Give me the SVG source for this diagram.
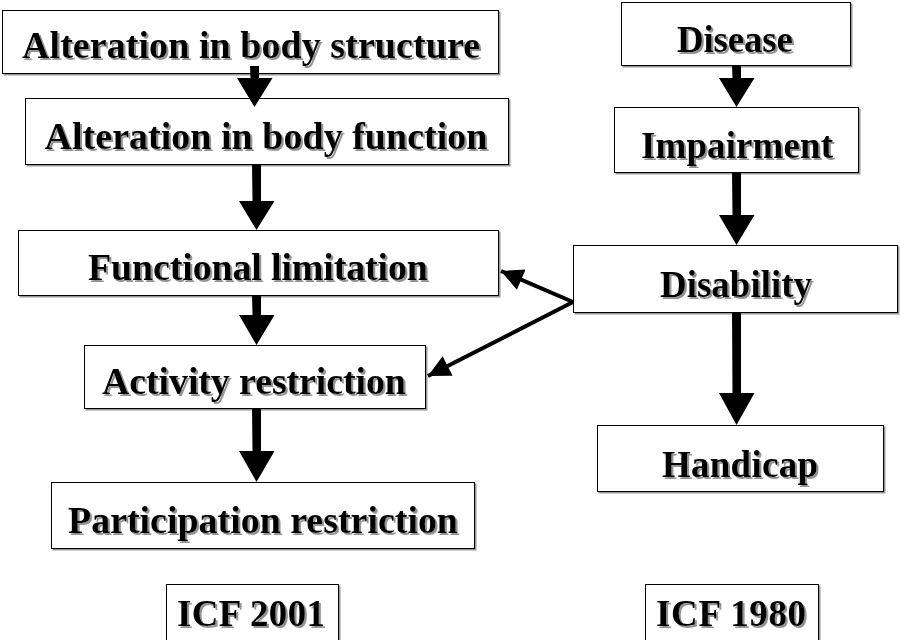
<svg xmlns="http://www.w3.org/2000/svg" width="900" height="640" viewBox="0 0 900 640">
  <defs>
    <filter id="tshadow" x="-5%" y="-20%" width="115%" height="150%">
      <feDropShadow dx="2" dy="2" stdDeviation="0.5" flood-color="#888" flood-opacity="0.9"/>
    </filter>
    <filter id="bshadow" x="-2%" y="-5%" width="105%" height="115%">
      <feDropShadow dx="1.5" dy="1.5" stdDeviation="0" flood-color="#999"/>
    </filter>
    <marker id="head" viewBox="0 0 10 10" refX="10" refY="5" markerWidth="6" markerHeight="5.5" orient="auto" markerUnits="strokeWidth">
      <path d="M0,0 L10,5 L0,10 Z" fill="#000"/>
    </marker>
  </defs>
  <style>
    .box { fill: #fff; stroke: #000; stroke-width: 1; filter: url(#bshadow); }
    .lbl { font-family: "Liberation Serif", "Times New Roman", serif; font-weight: bold; font-size: 38px; fill: #000; text-anchor: middle; filter: url(#tshadow); }
    .r { font-size: 37px; }
    .big { fill: #000; }
    .thin { stroke: #000; stroke-width: 4; fill: none; marker-end: url(#head); }
  </style>
  <rect width="900" height="640" fill="#fff"/>

  <g id="n-structure"><rect class="box" x="2.5" y="10.5" width="496" height="63"/><text class="lbl" x="251" y="58" textLength="458" lengthAdjust="spacing">Alteration in body structure</text></g>
  <g id="n-function"><rect class="box" x="25.5" y="98.5" width="483" height="66"/><text class="lbl" x="266" y="149" textLength="443" lengthAdjust="spacing">Alteration in body function</text></g>
  <g id="n-functional"><rect class="box" x="18.5" y="230.5" width="480" height="65"/><text class="lbl" x="258" y="280" textLength="340" lengthAdjust="spacing">Functional limitation</text></g>
  <g id="n-activity"><rect class="box" x="84.5" y="345.5" width="341" height="63"/><text class="lbl" x="254" y="394" textLength="304" lengthAdjust="spacing">Activity restriction</text></g>
  <g id="n-participation"><rect class="box" x="51.5" y="482.5" width="423" height="66"/><text class="lbl" x="263" y="533" textLength="390" lengthAdjust="spacing">Participation restriction</text></g>
  <g id="n-icf2001"><rect class="box" x="166.5" y="584.5" width="172" height="60"/><text class="lbl r" x="251" y="626" textLength="148" lengthAdjust="spacing">ICF 2001</text></g>

  <g id="n-disease"><rect class="box" x="621.5" y="2.5" width="229" height="63"/><text class="lbl r" x="735" y="52" textLength="116" lengthAdjust="spacing">Disease</text></g>
  <g id="n-impairment"><rect class="box" x="614.5" y="107.5" width="244" height="65"/><text class="lbl r" x="737" y="158" textLength="192" lengthAdjust="spacing">Impairment</text></g>
  <g id="n-disability"><rect class="box" x="573.5" y="245.5" width="324" height="67"/><text class="lbl r" x="736" y="297" textLength="152" lengthAdjust="spacing">Disability</text></g>
  <g id="n-handicap"><rect class="box" x="597.5" y="425.5" width="286" height="66"/><text class="lbl r" x="740" y="477" textLength="156" lengthAdjust="spacing">Handicap</text></g>
  <g id="n-icf1980"><rect class="box" x="645.5" y="584.5" width="173" height="60"/><text class="lbl r" x="731" y="626" textLength="150" lengthAdjust="spacing">ICF 1980</text></g>

  <g id="connectors">
    <path class="big" d="M250,66 h9 v12 h13.5 L254.5,107 L237,78 h13.5 Z"/>
    <path class="big" d="M252,164 h9 v37 h13.5 L256.5,230 L239,201 h13.5 Z"/>
    <path class="big" d="M252,295 h9 v20 h13.5 L256.5,345 L239,315 h13.5 Z"/>
    <path class="big" d="M252,408 h9 v43 h13.5 L256.5,482 L239,451 h13.5 Z"/>
    <path class="big" d="M732,65 h9 v13 h13.5 L736.5,107 L719,78 h13.5 Z"/>
    <path class="big" d="M732,172 h9 v43 h13.5 L736.5,245 L719,215 h13.5 Z"/>
    <path class="big" d="M732,312 h9 v81 h13.5 L736.5,425 L719,393 h13.5 Z"/>
    <line class="thin" x1="573" y1="302" x2="501" y2="271"/>
    <line class="thin" x1="573" y1="302" x2="428" y2="376"/>
  </g>
</svg>
